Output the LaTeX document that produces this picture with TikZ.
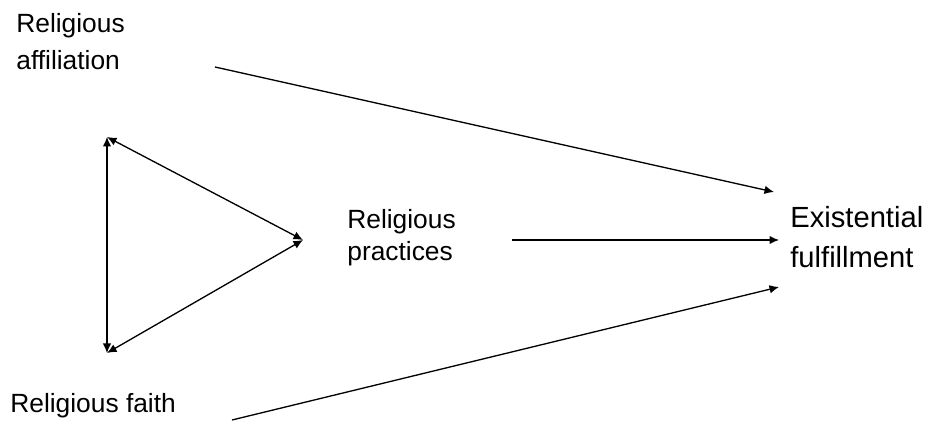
\documentclass[tikz,border=0pt]{standalone}
\usepackage{fontspec}
\setmainfont{Liberation Sans}
\usetikzlibrary{arrows.meta}

\begin{document}
\begin{tikzpicture}[
  x=0.02cm, y=-0.02cm,
  factor/.style={anchor=north west, inner sep=0pt, align=left, font=\fontsize{15}{21}\selectfont},
  outcome/.style={factor, font=\fontsize{16.6}{22.7}\selectfont},
  arrow/.style={-{Latex[length=1.9mm,width=1.7mm]}, line width=0.75pt},
  twoway/.style={{Latex[length=1.9mm,width=1.7mm]}-{Latex[length=1.9mm,width=1.7mm]}, line width=0.75pt}
]
\useasboundingbox (0,0) rectangle (927,421);

\node[factor] (affil) at (16,13) {Religious\\ affiliation};
\node[factor, font=\fontsize{15}{18.5}\selectfont] (pract) at (347,209) {Religious\\ practices};
\node[factor] (faith) at (10,393) {Religious faith};
\node[outcome] (fulfil) at (790,206) {Existential\\ fulfillment};

% arrow ends
\coordinate (affilout) at (215,67);
\coordinate (practout) at (512,240);
\coordinate (faithout) at (232,420);
\coordinate (fulfilA) at (774,192);
\coordinate (fulfilB) at (779,240);
\coordinate (fulfilC) at (779,287);

% triangle corners
\coordinate (tritop) at (107,137);
\coordinate (tribot) at (107,353);
\coordinate (triapex) at (303,240);

\draw[arrow] (affilout) -- (fulfilA);
\draw[arrow] (practout) -- (fulfilB);
\draw[arrow] (faithout) -- (fulfilC);

\draw[twoway] (tritop) -- (tribot);
\draw[twoway] (tritop) -- (triapex);
\draw[twoway] (tribot) -- (triapex);
\end{tikzpicture}
\end{document}
